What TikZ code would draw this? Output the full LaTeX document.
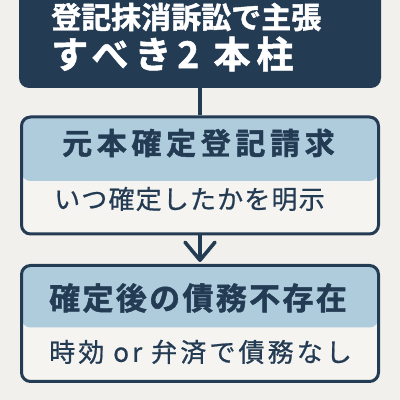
\documentclass[tikz,border=0pt]{standalone}
\usepackage{fontspec}
\usetikzlibrary{arrows.meta}
\newfontfamily\jp{Noto Sans CJK JP}[FakeBold=0.7]
\newfontfamily\jpb{Noto Sans CJK JP Bold}[FakeBold=1.4]
\definecolor{navy}{HTML}{243B54}
\definecolor{hdr}{HTML}{AFCCDD}
\definecolor{lowbg}{HTML}{F5F4F1}
\definecolor{pagebg}{HTML}{F2F0EC}
\tikzset{
  card/.style={draw=navy, line width=3pt, rounded corners=9pt, fill=lowbg,
    minimum width=357pt, inner sep=0pt},
  conn/.style={draw=navy, line width=3.6pt},
  ttl/.style={anchor=west, inner sep=0pt, text=white},
  htxt/.style={anchor=west, inner sep=0pt, text=navy},
  ltxt/.style={anchor=west, inner sep=0pt, text=navy}
}
\begin{document}
\begin{tikzpicture}[x=1pt,y=1pt]
\useasboundingbox (0,0) rectangle (400,400);
\fill[pagebg] (0,0) rectangle (400,400);
% top dark box
\node[fill=navy, rounded corners=10pt, minimum width=362pt, minimum height=110pt, inner sep=0pt] (top) at (200,367) {};
\node[ttl, font=\jpb\fontsize{30}{32}\selectfont] (t1) at (51,383) {登記抹消訴訟で主張};
\node[ttl, font=\jpb\fontsize{37}{40}\selectfont\addfontfeatures{LetterSpace=16}] (t2) at (51,346) {すべき2 本柱};
% box 2
\node[card, minimum height=117pt,
  path picture={\fill[hdr] (path picture bounding box.north west) rectangle ([yshift=-64pt]path picture bounding box.north east);}] (b2) at (200,224.5) {};
\node[htxt, font=\jpb\fontsize{30}{32}\selectfont\addfontfeatures{LetterSpace=15.5}] (h2) at (62,257) {元本確定登記請求};
\node[ltxt, font=\jp\fontsize{26}{28}\selectfont\addfontfeatures{LetterSpace=4.5}] (l2) at (54,201) {いつ確定したかを明示};
% box 3
\node[card, minimum height=116pt,
  path picture={\fill[hdr] (path picture bounding box.north west) rectangle ([yshift=-62pt]path picture bounding box.north east);}] (b3) at (200,76.5) {};
\node[htxt, font=\jpb\fontsize{31}{34}\selectfont\addfontfeatures{LetterSpace=7.5}] (h3) at (49,102) {確定後の債務不存在};
\node[ltxt, font=\jp\fontsize{26}{28}\selectfont\addfontfeatures{LetterSpace=12}] (l3) at (49,48) {時効 or 弁済で債務なし};
% connectors
\draw[conn] (top.south) -- (b2.north);
\draw[conn, -{Straight Barb[length=18pt, width=30pt, line cap=round, line join=round]}] (b2.south) -- ([yshift=2pt]b3.north);
\end{tikzpicture}
\end{document}
